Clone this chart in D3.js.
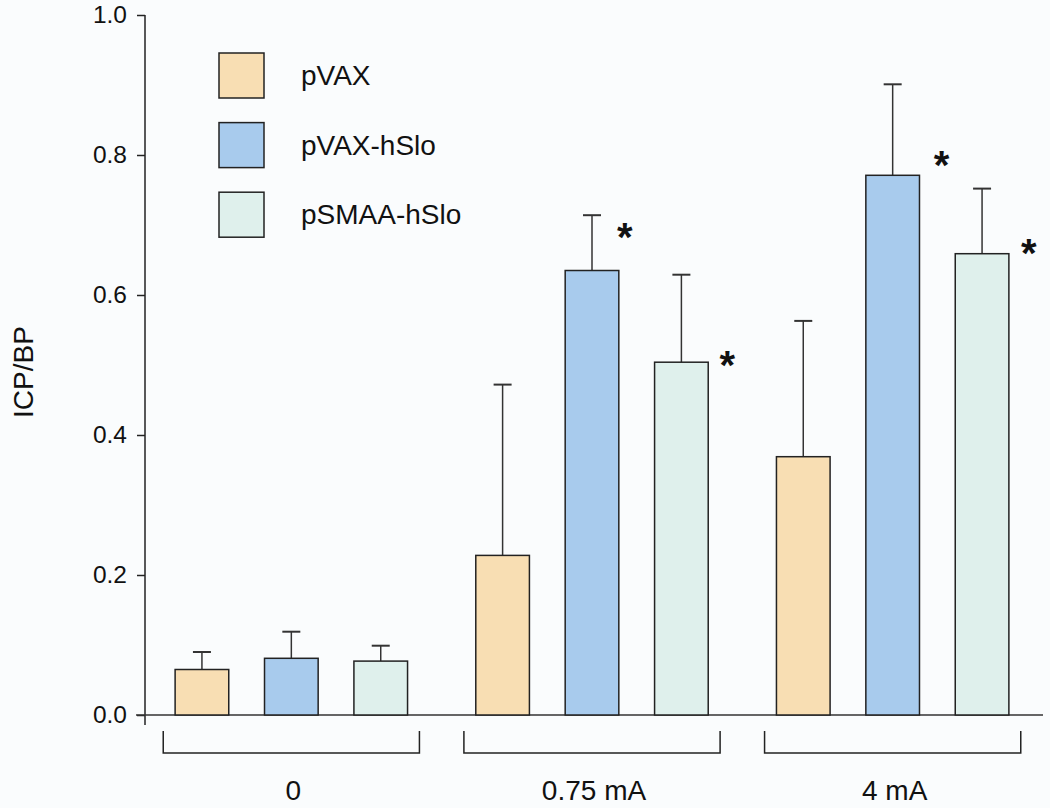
<!DOCTYPE html>
<html>
<head>
<meta charset="utf-8">
<script src="https://cdn.jsdelivr.net/npm/d3@7"></script>
<style>
  body { margin: 0; background: #fafcfd; }
  text { font-family: "Liberation Sans", Arial, sans-serif; fill: #111; }
</style>
</head>
<body>
<div id="chart"></div>
<script>
// Data
const groups = ["0", "0.75 mA", "4 mA"];
const series = ["pVAX", "pVAX-hSlo", "pSMAA-hSlo"];
const colors = ["#f8deb3", "#a8cbed", "#dff0ec"];
const pVAX      = [0.065, 0.228, 0.369];
const pVAXhSlo  = [0.081, 0.635, 0.771];
const pSMAAhSlo = [0.077, 0.504, 0.659];
const pVAXErr      = [0.090, 0.472, 0.563];   // top of error bar
const pVAXhSloErr  = [0.119, 0.714, 0.901];
const pSMAAhSloErr = [0.099, 0.629, 0.752];
const yTicks = [0, 0.2, 0.4, 0.6, 0.8, 1.0];

// significance stars: group, series, height of star centre, gap from bar edge
const starGroup  = ["0.75 mA", "0.75 mA", "4 mA", "4 mA"];
const starSeries = ["pVAX-hSlo", "pSMAA-hSlo", "pVAX-hSlo", "pSMAA-hSlo"];
const starValue  = [0.696, 0.513, 0.799, 0.673];
const starGap    = [6, 19, 22, 20];

const values = [pVAX, pVAXhSlo, pSMAAhSlo];
const errs = [pVAXErr, pVAXhSloErr, pSMAAhSloErr];

const data = [];
groups.forEach((g, gi) => {
  series.forEach((s, si) => {
    data.push({group: g, series: s, value: values[si][gi], err: errs[si][gi]});
  });
});

const width = 1050, height = 808;

const svg = d3.select("#chart").append("svg")
  .attr("width", width)
  .attr("height", height);

const y = d3.scaleLinear().domain([0, 1]).range([715, 15]);

const x0 = d3.scaleBand()
  .domain(groups)
  .range([141, 1043])
  .paddingInner(0.108)
  .paddingOuter(0.054);

const x1 = d3.scaleBand()
  .domain(series)
  .range([0, x0.bandwidth()])
  .paddingInner(0.4)
  .paddingOuter(0.2);

const color = d3.scaleOrdinal().domain(series).range(colors);

// y axis
const yAxis = svg.append("g")
  .attr("transform", "translate(145,0)")
  .call(d3.axisLeft(y).tickValues(yTicks).tickFormat(d3.format(".1f")).tickSize(8).tickPadding(10));
yAxis.select(".domain").remove();
yAxis.attr("font-size", null).attr("font-family", null);
yAxis.selectAll("line").attr("stroke", "#222").attr("stroke-width", 1.5);
yAxis.selectAll("text").style("font-size", "24.5px").attr("fill", "#111");

svg.append("line")
  .attr("x1", 145).attr("x2", 145)
  .attr("y1", y(1)).attr("y2", y(0) + 10)
  .attr("stroke", "#222").attr("stroke-width", 1.5);

// x axis baseline
svg.append("line")
  .attr("x1", 136).attr("x2", 1043)
  .attr("y1", y(0)).attr("y2", y(0))
  .attr("stroke", "#333").attr("stroke-width", 1.5);

// y label
svg.append("text")
  .attr("transform", "translate(33,372) rotate(-90)")
  .attr("text-anchor", "middle")
  .style("font-size", "28px")
  .text("ICP/BP");

// error bars (behind bars)
const capW = 18;
data.forEach(d => {
  const cx = x0(d.group) + x1(d.series) + x1.bandwidth() / 2;
  svg.append("line")
    .attr("x1", cx).attr("x2", cx)
    .attr("y1", y(d.value)).attr("y2", y(d.err))
    .attr("stroke", "#333").attr("stroke-width", 1.5);
  svg.append("line")
    .attr("x1", cx - capW / 2).attr("x2", cx + capW / 2)
    .attr("y1", y(d.err)).attr("y2", y(d.err))
    .attr("stroke", "#333").attr("stroke-width", 2);
});

// bars
svg.append("g")
  .selectAll("rect")
  .data(data)
  .enter().append("rect")
  .attr("x", d => x0(d.group) + x1(d.series))
  .attr("y", d => y(d.value))
  .attr("width", x1.bandwidth())
  .attr("height", d => y(0) - y(d.value))
  .attr("fill", d => color(d.series))
  .attr("stroke", "#222")
  .attr("stroke-width", 1.5);

// stars
starGroup.forEach((g, i) => {
  const xr = x0(g) + x1(starSeries[i]) + x1.bandwidth() + starGap[i];
  svg.append("text")
    .attr("x", xr)
    .attr("y", y(starValue[i]) + 23)
    .attr("text-anchor", "middle")
    .style("font-size", "40px")
    .style("font-weight", "bold")
    .text("*");
});

// group brackets and labels
groups.forEach(g => {
  const left = x0(g) + 6, right = x0(g) + x0.bandwidth() - 6;
  svg.append("path")
    .attr("d", `M${left},731 V753 H${right} V731`)
    .attr("fill", "none")
    .attr("stroke", "#222")
    .attr("stroke-width", 1.5);
  svg.append("text")
    .attr("x", x0(g) + x0.bandwidth() / 2 + 2)
    .attr("y", 800)
    .attr("text-anchor", "middle")
    .style("font-size", "28px")
    .text(g);
});

// legend
const legend = svg.append("g").attr("transform", "translate(219,53)");
series.forEach((s, i) => {
  legend.append("rect")
    .attr("x", 0)
    .attr("y", i * 69.6)
    .attr("width", 45)
    .attr("height", 45)
    .attr("fill", color(s))
    .attr("stroke", "#222")
    .attr("stroke-width", 1.5);
  legend.append("text")
    .attr("x", 82)
    .attr("y", i * 69.6 + 32)
    .style("font-size", "28px")
    .text(s);
});
</script>
</body>
</html>
